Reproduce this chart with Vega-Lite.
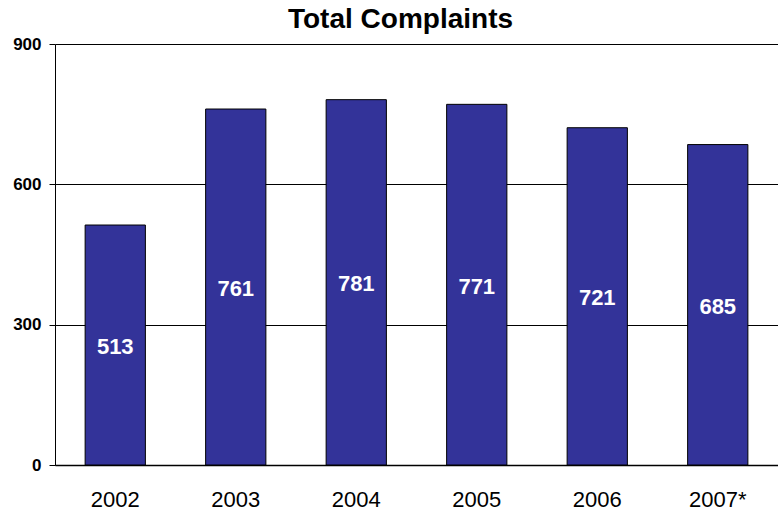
{
  "$schema": "https://vega.github.io/schema/vega-lite/v6.json",
  "autosize": {"type": "none"},
  "width": 723,
  "height": 421,
  "padding": {"left": 55, "top": 44, "right": 0, "bottom": 49},
  "background": "white",
  "config": {"view": {"stroke": null}, "font": "Liberation Sans"},
  "title": {"text": "Total Complaints", "font": "Liberation Sans", "fontSize": 28, "fontWeight": "bold", "color": "black", "anchor": "middle", "dx": -16, "offset": 1},
  "data": {"values": [
    {"year": "2002", "complaints": 513},
    {"year": "2003", "complaints": 761},
    {"year": "2004", "complaints": 781},
    {"year": "2005", "complaints": 771},
    {"year": "2006", "complaints": 721},
    {"year": "2007*", "complaints": 685}
  ]},
  "encoding": {
    "x": {"field": "year", "type": "nominal", "sort": null,
      "scale": {"paddingInner": 0.5, "paddingOuter": 0.25},
      "axis": {"title": null, "labelAngle": 0, "labelFont": "Liberation Sans", "labelFontSize": 22, "labelColor": "black", "labelPadding": 24, "ticks": false, "domainColor": "black", "domainWidth": 1.5}}
  },
  "layer": [
    {
      "mark": {"type": "bar", "color": "#333399", "stroke": "black", "strokeWidth": 1},
      "encoding": {
        "y": {"field": "complaints", "type": "quantitative",
          "scale": {"domain": [0, 900], "nice": false},
          "axis": {"title": null, "values": [0, 300, 600, 900], "labelFont": "Liberation Sans", "labelFontSize": 17, "labelFontWeight": "bold", "labelColor": "black", "labelPadding": 8, "tickSize": 6, "tickColor": "black", "domainColor": "black", "gridColor": "black", "gridOpacity": 1, "gridWidth": 1}}
      }
    },
    {
      "mark": {"type": "text", "color": "white", "fontWeight": "bold", "fontSize": 22, "font": "Liberation Sans", "baseline": "middle", "dy": 2},
      "encoding": {
        "y": {"field": "complaints", "type": "quantitative", "scale": {"domain": [0, 1800], "nice": false}, "axis": null},
        "text": {"field": "complaints", "type": "quantitative"}
      }
    }
  ],
  "resolve": {"scale": {"y": "independent"}}
}
